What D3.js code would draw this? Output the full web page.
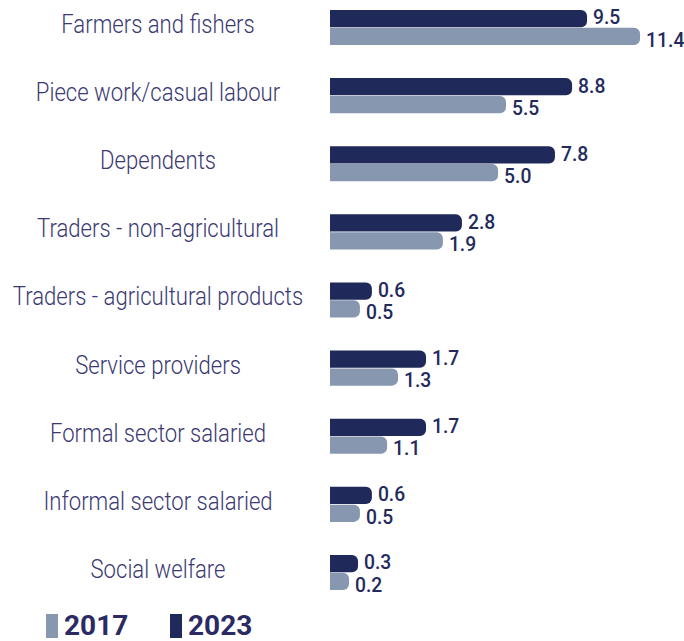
<!DOCTYPE html>
<html><head><meta charset="utf-8">
<script src="https://cdn.jsdelivr.net/npm/d3@7"></script>
<style>body{margin:0;background:#fff}svg{display:block}</style>
</head><body>
<svg id="c" width="684" height="641"></svg>
<script>
const categories = ["Farmers and fishers","Piece work/casual labour","Dependents","Traders - non-agricultural","Traders - agricultural products","Service providers","Formal sector salaried","Informal sector salaried","Social welfare"];
// printed values
const values2023 = [9.5, 8.8, 7.8, 2.8, 0.6, 1.7, 1.7, 0.6, 0.3];
const values2017 = [11.4, 5.5, 5.0, 1.9, 0.5, 1.3, 1.1, 0.5, 0.2];
// bar extents as drawn in the picture (same units)
const barLen2023 = [9.45, 8.90, 8.27, 4.85, 1.54, 3.53, 3.53, 1.54, 1.03];
const barLen2017 = [11.40, 6.47, 6.18, 4.15, 1.10, 2.50, 2.10, 1.10, 0.70];
const seriesNames = ["2023", "2017"];
const legendOrder = ["2017", "2023"];

const colors = {"2023": "#1f2a5a", "2017": "#8797b0"};
const svg = d3.select("#c");

const y = d3.scaleBand().domain(categories).range([10, 590]).paddingInner(0.486).paddingOuter(0);
const ySub = d3.scaleBand().domain(seriesNames).range([0, y.bandwidth()]).paddingInner(0.03);
const x = d3.scaleLinear().domain([0, 12]).range([330, 656.4]);

const rows = categories.map((c, i) => ({cat: c, vals: [
  {s: "2023", v: values2023[i], len: barLen2023[i]},
  {s: "2017", v: values2017[i], len: barLen2017[i]}
]}));

function barPath(x0, y0, w, h, r) {
  r = Math.min(r, w, h / 2);
  return `M${x0},${y0}H${x0 + w - r}A${r},${r} 0 0 1 ${x0 + w},${y0 + r}V${y0 + h - r}A${r},${r} 0 0 1 ${x0 + w - r},${y0 + h}H${x0}Z`;
}

const g = svg.selectAll("g.row").data(rows).join("g").attr("class", "row")
  .attr("transform", d => `translate(0,${y(d.cat)})`);

g.append("text")
  .attr("transform", `translate(158,${y.bandwidth() / 2 - 3}) scale(0.885,1)`)
  .attr("text-anchor", "middle").attr("dominant-baseline", "central")
  .attr("font-family", "Roboto").attr("font-weight", 300).attr("font-size", 25)
  .attr("fill", "#3b3a72")
  .text(d => d.cat);

g.selectAll("path.bar").data(d => d.vals).join("path").attr("class", "bar")
  .attr("d", d => barPath(x(0), ySub(d.s), x(d.len) - x(0), ySub.bandwidth(), 6))
  .attr("fill", d => colors[d.s]);

g.selectAll("text.val").data(d => d.vals).join("text").attr("class", "val")
  .attr("transform", d => `translate(${x(d.len) + 6},${ySub(d.s) + ySub.bandwidth() / 2 + (d.s === "2017" ? 3 : -1.5)}) scale(0.92,1)`)
  .attr("dominant-baseline", "central")
  .attr("font-family", "Roboto").attr("font-weight", 500).attr("font-size", 21)
  .attr("fill", "#232b5c")
  .text(d => d3.format(".1f")(d.v));

const lg = svg.append("g");
const lx = d3.scaleOrdinal().domain(legendOrder).range([46, 170]);
legendOrder.forEach(s => {
  lg.append("rect").attr("x", lx(s)).attr("y", 614).attr("width", 12).attr("height", 24).attr("fill", colors[s]);
  lg.append("text").attr("x", lx(s) + 18).attr("y", 635)
    .attr("font-family", "Roboto").attr("font-weight", 700).attr("font-size", 28)
    .attr("fill", "#2b2a62").text(s);
});
</script>
</body></html>
